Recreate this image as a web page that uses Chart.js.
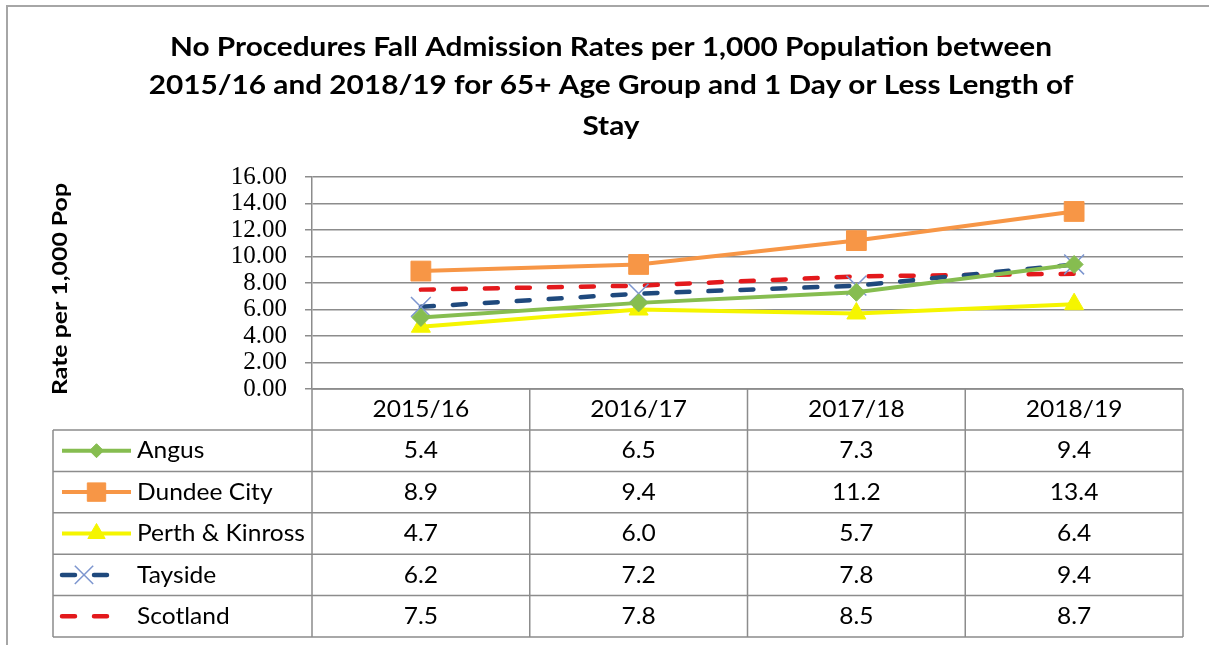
<!DOCTYPE html>
<html>
<head>
<meta charset="utf-8">
<script src="https://cdn.jsdelivr.net/npm/chart.js@4.4.1/dist/chart.umd.min.js"></script>
<style>
  html, body { margin: 0; padding: 0; background: #ffffff; }
  #wrap { width: 1209px; height: 645px; position: relative; }
</style>
</head>
<body>
<div id="wrap"><canvas id="c" width="1209" height="645"></canvas></div>
<script>
// ---------- data ----------
const categories = ['2015/16', '2016/17', '2017/18', '2018/19'];
const angus    = [5.4, 6.5, 7.3, 9.4];
const dundee   = [8.9, 9.4, 11.2, 13.4];
const perth    = [4.7, 6.0, 5.7, 6.4];
const tayside  = [6.2, 7.2, 7.8, 9.4];
const scotland = [7.5, 7.8, 8.5, 8.7];
const seriesNames = ['Angus', 'Dundee City', 'Perth & Kinross', 'Tayside', 'Scotland'];
const yTickValues = [0, 2, 4, 6, 8, 10, 12, 14, 16];
const titleLines = [
  'No Procedures Fall Admission Rates per 1,000 Population between',
  '2015/16 and 2018/19 for 65+ Age Group and 1 Day or Less Length of',
  'Stay'
];
const yTitle = 'Rate per 1,000 Pop';

// ---------- helpers ----------
function fitScale(ctx, font, text, target) {
  ctx.save(); ctx.font = font;
  const w = ctx.measureText(text).width;
  ctx.restore();
  return target / w;
}
function drawText(ctx, text, x, y, font, sx, align) {
  ctx.save();
  ctx.font = font;
  ctx.fillStyle = '#000000';
  ctx.textBaseline = 'middle';
  ctx.textAlign = align || 'center';
  ctx.translate(x, y);
  ctx.scale(sx, 1);
  ctx.fillText(text, 0, 0);
  ctx.restore();
}

const decorPlugin = {
  id: 'decor',
  beforeDraw(chart) {
    const ctx = chart.ctx;
    ctx.save();
    ctx.fillStyle = '#ffffff';
    ctx.fillRect(0, 0, chart.width, chart.height);
    ctx.strokeStyle = '#a6a6a6';
    ctx.lineWidth = 2;
    ctx.beginPath();
    ctx.moveTo(7, 645); ctx.lineTo(7, 6); ctx.lineTo(1209, 6);
    ctx.stroke();
    ctx.restore();
  },
  afterDraw(chart) {
    const ctx = chart.ctx;
    const xs = chart.scales.x;
    const ys = chart.scales.y;
    // title
    const tFont = 'bold 27px Lato';
    const tsx = fitScale(ctx, tFont, titleLines[0], 882);
    const tY = [47, 85, 126];
    titleLines.forEach((l, i) => drawText(ctx, l, 611, tY[i], tFont, tsx));
    // y title
    const yFont = 'bold 21px Lato';
    const ysx = fitScale(ctx, yFont, yTitle, 212);
    ctx.save();
    ctx.translate(60, 289);
    ctx.rotate(-Math.PI / 2);
    drawText(ctx, yTitle, 0, 0, yFont, ysx);
    ctx.restore();

    // data table
    const n = categories.length;
    const cw = (xs.right - xs.left) / n;
    const top = ys.bottom;
    const headH = 41;
    const rowH = 41.4;
    const tableLeft = 53;
    const right = xs.right;
    const bottom = top + headH + rowH * chart.data.datasets.length;
    ctx.save();
    ctx.strokeStyle = '#8c8c8c';
    ctx.lineWidth = 1.5;
    ctx.beginPath();
    ctx.moveTo(xs.left, top); ctx.lineTo(right, top);
    for (let i = 0; i <= n; i++) {
      const x = xs.left + i * cw;
      ctx.moveTo(x, top); ctx.lineTo(x, bottom);
    }
    for (let r = 0; r <= chart.data.datasets.length; r++) {
      const y = top + headH + r * rowH;
      ctx.moveTo(tableLeft, y); ctx.lineTo(right, y);
    }
    ctx.moveTo(tableLeft, top + headH); ctx.lineTo(tableLeft, bottom);
    ctx.stroke();
    ctx.restore();

    const cFont = '24px Lato';
    const csx = fitScale(ctx, cFont, 'Perth & Kinross', 168);
    categories.forEach((c, i) => {
      drawText(ctx, c, xs.getPixelForValue(i), top + headH / 2, cFont, csx);
    });
    chart.data.datasets.forEach((ds, r) => {
      const cy = top + headH + rowH * r + rowH / 2;
      ds.data.forEach((v, i) => {
        drawText(ctx, v.toFixed(1), xs.getPixelForValue(i), cy, cFont, csx);
      });
      // legend sample
      ctx.save();
      ctx.strokeStyle = ds.borderColor;
      ctx.lineWidth = ds.borderWidth;
      ctx.lineCap = ds.borderCapStyle || 'butt';
      const dashed = ds.borderDash && ds.borderDash.length;
      const x0 = 62, x1 = dashed ? 108 : 131;
      if (dashed) ctx.setLineDash(ds.borderDash);
      ctx.beginPath(); ctx.moveTo(x0, cy); ctx.lineTo(x1, cy); ctx.stroke();
      ctx.restore();
      if (ds.pointRadius > 0) {
        ctx.save();
        ctx.fillStyle = ds.pointBackgroundColor;
        ctx.strokeStyle = ds.pointBorderColor;
        ctx.lineWidth = ds.pointBorderWidth;
        Chart.helpers.drawPoint(ctx, {
          pointStyle: ds.pointStyle,
          radius: ds.legendRadius || ds.pointRadius,
          borderWidth: ds.pointBorderWidth,
          rotation: 0
        }, (x0 + x1) / 2 + (dashed ? -1 : 0), cy);
        ctx.restore();
      }
      drawText(ctx, seriesNames[r], 137, cy, cFont, csx, 'left');
    });
  }
};

const ctx = document.getElementById('c').getContext('2d');
function mk(label, data, color, extra) {
  return Object.assign({
    label, data,
    borderColor: color,
    backgroundColor: color,
    pointBackgroundColor: color,
    pointBorderColor: color,
    pointBorderWidth: 1,
    borderWidth: 4,
    tension: 0,
    fill: false
  }, extra);
}
const chart = new Chart(ctx, {
  type: 'line',
  data: {
    labels: categories,
    datasets: [
      mk(seriesNames[0], angus, '#86bd50', { pointStyle: 'rectRot', pointRadius: 9, legendRadius: 7, order: 1 }),
      mk(seriesNames[1], dundee, '#f79646', { pointStyle: 'rect', pointRadius: 14, legendRadius: 13, order: 5 }),
      mk(seriesNames[2], perth, '#f5f500', { pointStyle: 'triangle', pointRadius: 11, legendRadius: 10, order: 4 }),
      mk(seriesNames[3], tayside, '#1f497d', { borderWidth: 4.5, borderDash: [13, 19], borderCapStyle: 'round',
        pointStyle: 'crossRot', pointRadius: 14, legendRadius: 13, pointBorderColor: '#7d96cf', pointBorderWidth: 1.5, order: 2 }),
      mk(seriesNames[4], scotland, '#e3191c', { borderWidth: 4.5, borderDash: [13, 19], borderCapStyle: 'round',
        pointRadius: 0, order: 3 })
    ]
  },
  options: {
    responsive: false,
    animation: false,
    devicePixelRatio: 1,
    layout: { padding: { left: 0, top: 177, right: 26, bottom: 256 } },
    plugins: { legend: { display: false }, title: { display: false }, tooltip: { enabled: false } },
    scales: {
      x: {
        type: 'category',
        offset: true,
        grid: { display: false },
        border: { display: false },
        ticks: { display: false },
        afterFit(s) { s.height = 0; }
      },
      y: {
        min: 0, max: 16,
        afterFit(s) { s.width = 312; },
        afterBuildTicks(s) { s.ticks = yTickValues.map(v => ({ value: v })); },
        border: { display: true, color: '#8c8c8c', width: 1.5 },
        grid: { color: '#8c8c8c', lineWidth: 1.5, tickLength: 7, drawTicks: true },
        ticks: {
          autoSkip: false,
          padding: 18,
          color: '#000000',
          font: { family: "'Liberation Serif', 'DejaVu Serif', serif", size: 25 },
          callback: v => Number(v).toFixed(2)
        }
      }
    }
  },
  plugins: [decorPlugin]
});
</script>
</body>
</html>
